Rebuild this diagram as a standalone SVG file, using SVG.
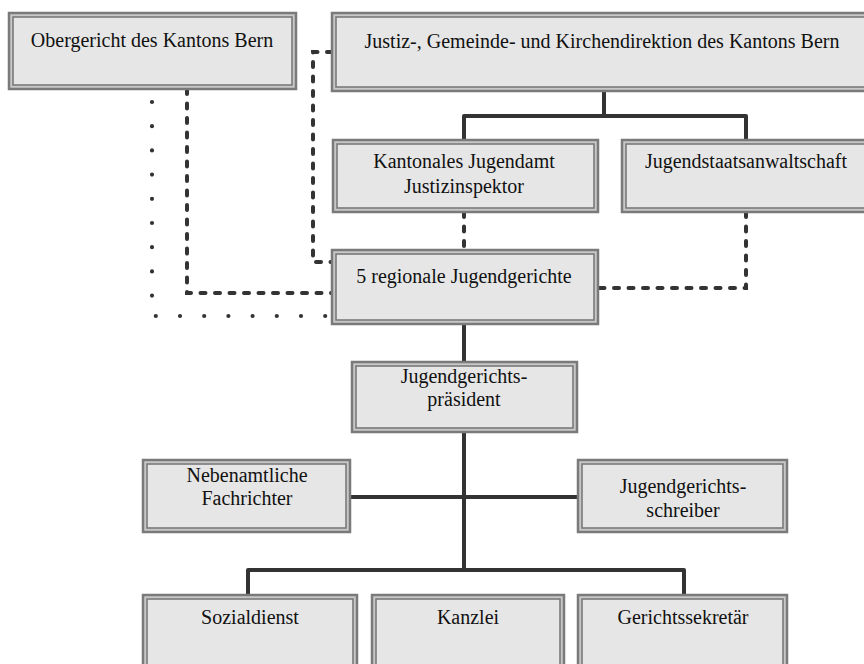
<svg xmlns="http://www.w3.org/2000/svg" width="864" height="664" viewBox="0 0 864 664">
<style>
.o{fill:#c8c8c8;stroke:#7a7a7a;stroke-width:2.5}
.i{fill:#e6e6e6;stroke:#7a7a7a;stroke-width:1.6}
.t{font-family:"Liberation Serif","Times New Roman","DejaVu Serif",serif;font-size:20px;fill:#111;text-anchor:middle}
.s{fill:none;stroke:#333;stroke-width:4;stroke-linejoin:round;stroke-linecap:round}
.d{fill:none;stroke:#333;stroke-width:4;stroke-dasharray:5 9.5;stroke-linecap:round}
.p{fill:none;stroke:#333;stroke-width:4.2;stroke-dasharray:0 24.2;stroke-linecap:round}
</style>
<rect width="864" height="664" fill="#fff"/>
<g id="connectors">
<path class="s" d="M604 91V116M464 140V116H746V140"/>
<path class="s" d="M464 324V362M464 432V570M350 497H578M248 595V570H684V595"/>
<path class="d" d="M332 52H313V262H332"/>
<path class="d" d="M464 212V250"/>
<path class="d" d="M746 212V288H598"/>
<path class="d" d="M187 89V293H332"/>
<path class="p" d="M152 102V316H332"/>
</g>
<g id="obergericht"><rect class="o" x="9" y="13" width="287" height="76"/><rect class="i" x="13" y="17" width="279" height="68"/><text class="t" x="152" y="47">Obergericht des Kantons Bern</text></g>
<g id="justiz"><rect class="o" x="332" y="13" width="540" height="78"/><rect class="i" x="336" y="17" width="532" height="70"/><text class="t" x="602" y="48">Justiz-, Gemeinde- und Kirchendirektion des Kantons Bern</text></g>
<g id="jugendamt"><rect class="o" x="333" y="140" width="265" height="72"/><rect class="i" x="337" y="144" width="257" height="64"/><text class="t" x="464" y="168">Kantonales Jugendamt</text><text class="t" x="464" y="193">Justizinspektor</text></g>
<g id="jugendstaatsanwaltschaft"><rect class="o" x="622" y="140" width="250" height="72"/><rect class="i" x="626" y="144" width="242" height="64"/><text class="t" x="746" y="168">Jugendstaatsanwaltschaft</text></g>
<g id="regionale"><rect class="o" x="332" y="250" width="266" height="74"/><rect class="i" x="336" y="254" width="258" height="66"/><text class="t" x="464" y="283">5 regionale Jugendgerichte</text></g>
<g id="praesident"><rect class="o" x="352" y="362" width="225" height="70"/><rect class="i" x="356" y="366" width="217" height="62"/><text class="t" x="464" y="383">Jugendgerichts-</text><text class="t" x="464" y="406">präsident</text></g>
<g id="fachrichter"><rect class="o" x="143" y="460" width="207" height="72"/><rect class="i" x="147" y="464" width="199" height="64"/><text class="t" x="247" y="482">Nebenamtliche</text><text class="t" x="247" y="505">Fachrichter</text></g>
<g id="schreiber"><rect class="o" x="578" y="460" width="209" height="72"/><rect class="i" x="582" y="464" width="201" height="64"/><text class="t" x="683" y="493">Jugendgerichts-</text><text class="t" x="683" y="517">schreiber</text></g>
<g id="sozialdienst"><rect class="o" x="143" y="595" width="214" height="80"/><rect class="i" x="147" y="599" width="206" height="80"/><text class="t" x="250" y="624">Sozialdienst</text></g>
<g id="kanzlei"><rect class="o" x="372" y="595" width="192" height="80"/><rect class="i" x="376" y="599" width="184" height="80"/><text class="t" x="468" y="624">Kanzlei</text></g>
<g id="sekretaer"><rect class="o" x="578" y="595" width="209" height="80"/><rect class="i" x="582" y="599" width="201" height="80"/><text class="t" x="683" y="624">Gerichtssekretär</text></g>
</svg>
